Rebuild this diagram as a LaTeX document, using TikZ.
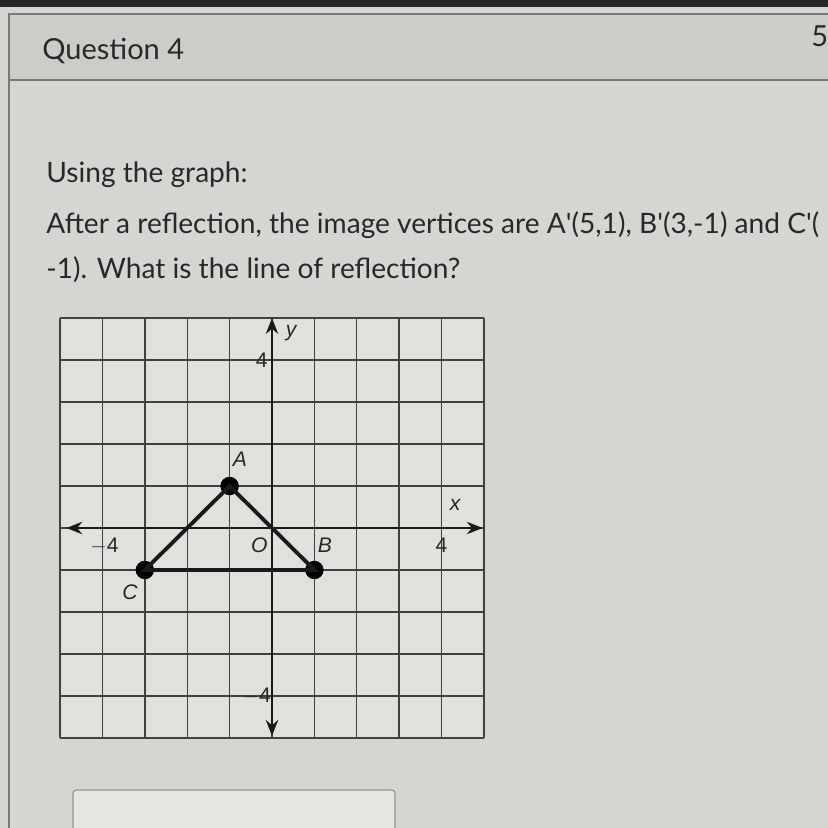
\documentclass[tikz,border=0pt]{standalone}
\usepackage{fontspec}
\setmainfont{Lato}
\newfontfamily\gfont{Liberation Sans}
\usetikzlibrary{arrows.meta}
\definecolor{bg}{RGB}{214,214,209}
\definecolor{hdr}{RGB}{205,205,200}
\definecolor{txt}{RGB}{38,40,44}
\definecolor{gridbg}{RGB}{224,224,220}
\definecolor{frame}{RGB}{120,120,118}
\tikzset{
  bodytext/.style={anchor=base west, inner sep=0pt, text=txt, font=\fontsize{16}{19}\selectfont},
  gridline/.style={draw=black!75, line width=0.8pt},
  axisline/.style={draw=black!90, line width=1.7pt, {Stealth[length=9pt,width=7pt]}-{Stealth[length=9pt,width=7pt]}},
  vertex/.style={circle, fill=black, inner sep=0pt, minimum size=10.5pt},
  side/.style={draw=black!90, line width=2.2pt},
  glabel/.style={inner sep=0pt, text=black!85, font=\gfont\fontsize{12}{14}\selectfont},
}
\begin{document}
\begin{tikzpicture}[x=0.02cm,y=-0.02cm]
\useasboundingbox (0,0) rectangle (828,828);
\clip (0,0) rectangle (828,828);
\fill[bg] (0,0) rectangle (828,828);
\fill[black!85] (0,0) rectangle (828,7);
\fill[hdr] (9,14) rectangle (828,80);
\draw[frame, line width=0.8pt] (828,14) -- (9,14) -- (9,828);
\draw[frame, line width=0.8pt] (9,80) -- (828,80);
\node[bodytext, font=\fontsize{16.5}{19}\selectfont] (title) at (42,60) {Question 4};
\node[bodytext, font=\fontsize{16.5}{19}\selectfont] (pts) at (811,47) {5};
\node[bodytext] (l1) at (46,182) {Using the graph:};
\node[bodytext] (l2) at (46,233) {After a reflection, the image vertices are A\textquotesingle(5,1), B\textquotesingle(3,-1) and C\textquotesingle(};
\node[bodytext] (l3) at (46,278) {-1). What is the line of reflection?};
% answer box
\draw[frame!80, line width=0.7pt, fill=bg!60!white, rounded corners=2pt] (73,790) rectangle (395,860);
% graph
\coordinate (origin) at (272,528);
\begin{scope}[shift={(origin)}, x=0.848cm, y=0.84cm]
  \fill[gridbg] (-5,-5) rectangle (5,5);
  \foreach \k in {-5,...,5} {
    \draw[gridline] (\k,-5) -- (\k,5);
    \draw[gridline] (-5,\k) -- (5,\k);
  }
  \coordinate (xl) at (-4.85,0);
  \coordinate (xr) at (4.97,0);
  \coordinate (yt) at (0,5.0);
  \coordinate (yb) at (0,-4.95);
  \draw[axisline] (xl) -- (xr);
  \draw[axisline] (yb) -- (yt);
  \node[vertex] (A) at (-1,1) {};
  \node[vertex] (B) at (1,-1) {};
  \node[vertex] (C) at (-3,-1) {};
  \draw[side] (A.center) -- (B.center) -- (C.center) -- cycle;
  \node[glabel] (lA) at (-0.76,1.64) {\itshape A};
  \node[glabel] (lB) at (1.25,-0.42) {\itshape B};
  \node[glabel] (lC) at (-3.35,-1.52) {\itshape C};
  \node[glabel] (lO) at (-0.3,-0.42) {\itshape O};
  \node[glabel] (lx) at (4.32,0.56) {\itshape x};
  \node[glabel] (ly) at (0.45,4.65) {\itshape y};
  \node[glabel] (xm4) at (-3.95,-0.42) {$-$4};
  \node[glabel] (xp4) at (4.0,-0.42) {4};
  \node[glabel] (yp4) at (-0.24,4.0) {4};
  \node[glabel] (ym4) at (-0.36,-4.0) {$-$4};
\end{scope}
\end{tikzpicture}
\end{document}
